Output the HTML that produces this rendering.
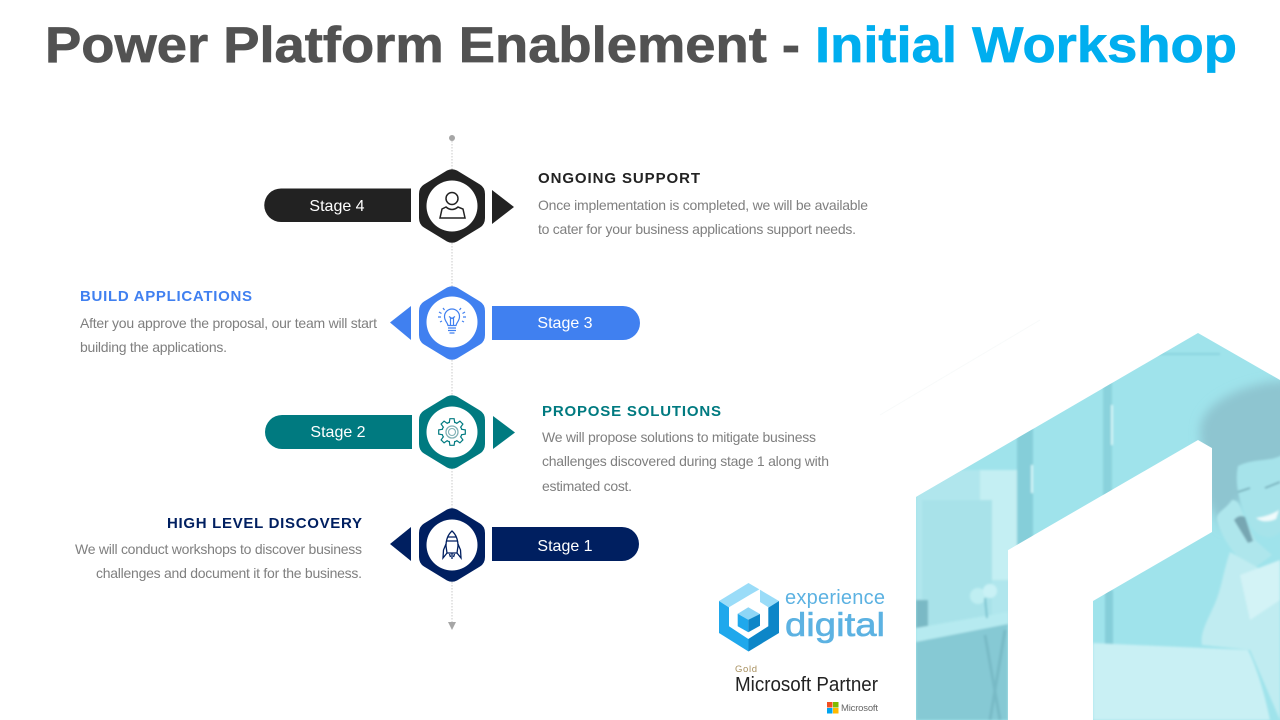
<!DOCTYPE html>
<html><head><meta charset="utf-8"><title>Power Platform Enablement - Initial Workshop</title>
<style>html,body{margin:0;padding:0;background:#fff;width:1280px;height:720px;overflow:hidden}svg{display:block}text{font-family:"Liberation Sans",Arial,sans-serif}</style>
</head><body>
<svg width="1280" height="720" viewBox="0 0 1280 720" xmlns="http://www.w3.org/2000/svg">
<defs>
<clipPath id="house"><path d="M916 497L1198 333L1280 380V720H1093V601L1212 532V448L1198 440L1008 550V720H916Z"/></clipPath>
<filter id="b1" x="-20%" y="-20%" width="140%" height="140%"><feGaussianBlur stdDeviation="1"/></filter>
<filter id="b4" x="-30%" y="-30%" width="160%" height="160%"><feGaussianBlur stdDeviation="5"/></filter>
<path id="hex" d="M-5 -35.500Q0 -38 5 -35.500L28 -21.500Q33 -18.500 33 -12V12Q33 18.500 28 21.500L5 35.500Q0 38 -5 35.500L-28 21.500Q-33 18.500 -33 12V-12Q-33 -18.500 -28 -21.500Z"/>
<path id="tooth" d="M-2.800 -9L-2.100 -13.300H2.100L2.800 -9" fill="#fff" stroke="#007a80" stroke-width="1.200"/>
</defs>
<rect width="1280" height="720" fill="#fff"/>

<!-- Title -->
<text x="45" y="62" font-size="50" font-weight="700" fill="#525252" stroke="#525252" stroke-width=".7" textLength="755" lengthAdjust="spacingAndGlyphs">Power Platform Enablement -</text>
<text x="815" y="62" font-size="50" font-weight="700" fill="#00aeef" stroke="#00aeef" stroke-width=".7" textLength="422" lengthAdjust="spacingAndGlyphs">Initial Workshop</text>

<!-- Background photo -->
<path d="M880 415L1040 320" stroke="#f8fafa" fill="none"/>
<g clip-path="url(#house)">
<rect x="900" y="320" width="380" height="400" fill="#9fe3eb"/>
<g filter="url(#b1)">
<rect x="916" y="470" width="105" height="250" fill="#b0e6ed"/>
<rect x="980" y="470" width="38" height="110" fill="#c4eff3"/>
<rect x="922" y="500" width="70" height="130" fill="#a8e2e9"/>
<rect x="1017" y="420" width="16" height="130" fill="#85ced9"/>
<rect x="1103" y="380" width="9" height="150" fill="#8ad2dc"/>
<rect x="1105" y="590" width="8" height="60" fill="#85ced9"/>
<rect x="1110" y="353" width="110" height="2" fill="#8bd3de"/>
<rect x="1031" y="465" width="2" height="28" fill="#d8f6f8"/>
<rect x="1111" y="405" width="2" height="40" fill="#d8f6f8"/>
<path d="M916 640L1008 622V720H916Z" fill="#86c9d4"/>
<path d="M916 600H928V640H916Z" fill="#7ab9c5"/>
<path d="M916 628L1008 612V624L916 642Z" fill="#b6eaf0"/>
<circle cx="978" cy="596" r="8" fill="#bfeef2"/>
<circle cx="990" cy="591" r="7" fill="#c9f1f5"/>
<path d="M985 598L987 618" stroke="#7cc4d0" stroke-width="2"/>
<path d="M985 635L1000 720M1005 630L990 720" stroke="#78bac6" stroke-width="3"/>
</g>
<g filter="url(#b4)">
<path d="M1200 432C1200 405 1235 388 1270 382L1290 380V500H1240L1225 530L1205 500Z" fill="#8ec5d0"/>
</g>
<g filter="url(#b1)">
<path d="M1238 466C1255 458 1270 462 1282 455V530C1272 542 1258 538 1250 525C1240 505 1234 485 1238 466Z" fill="#a6e3ea"/>
<path d="M1238 492L1250 488M1265 488L1280 482" stroke="#6ea6b2" stroke-width="1.500" fill="none"/>
<path d="M1256 518Q1270 516 1279 510L1276 519Q1264 524 1256 518Z" fill="#f0fbfc"/>
<path d="M1232 500C1225 510 1216 512 1217 520C1222 540 1238 560 1252 570L1272 555L1255 540L1242 512C1240 505 1238 500 1232 500Z" fill="#aee6ec"/>
<path d="M1234 520L1248 543L1253 541L1245 517Q1239 514 1234 520Z" fill="#77a6b2"/>
<path d="M1230 552C1222 575 1222 590 1212 610C1205 625 1200 635 1202 645L1250 650L1280 720V575L1262 570Z" fill="#c0ecf1"/>
<path d="M1240 575L1280 560V600L1250 620Z" fill="#d3f3f6"/>
<path d="M1093 643L1248 650C1258 670 1266 700 1270 720H1093Z" fill="#c9f0f4"/>
</g>
</g>

<!-- Central line -->
<line x1="452" y1="138" x2="452" y2="622" stroke="#c8c8c8" stroke-dasharray="1.500 1.500"/>
<circle cx="452" cy="138" r="3" fill="#a6a6a6"/>
<path d="M448 622H456L452 630Z" fill="#a6a6a6"/>

<!-- Stage 4 -->
<path d="M281 188.500H411V222H281A16.700 16.700 0 0 1 281 188.500Z" fill="#222"/>
<path d="M492 190L514 207L492 224Z" fill="#222"/>
<use href="#hex" x="452" y="206" fill="#222"/><circle cx="452" cy="206" r="25.500" fill="#fff"/>
<text x="337" y="211" font-size="16" fill="#fff" text-anchor="middle">Stage 4</text>
<g fill="none" stroke="#222" stroke-width="1.500">
<circle cx="452" cy="198.500" r="6"/>
<path d="M446 207L442 209L440 218H465L463 209L458 207Q452 212 446 207Z"/>
</g>
<text x="538" y="183" font-size="15" font-weight="700" fill="#222" textLength="162">ONGOING SUPPORT</text>
<text x="538" y="210" font-size="14" fill="#7f7f7f" textLength="330">Once implementation is completed, we will be available</text>
<text x="538" y="234" font-size="14" fill="#7f7f7f" textLength="318">to cater for your business applications support needs.</text>

<!-- Stage 3 -->
<path d="M492 306H623A17 17 0 0 1 623 340H492Z" fill="#4080f0"/>
<path d="M411 306L390 322.500L411 340Z" fill="#4080f0"/>
<use href="#hex" x="452" y="323" fill="#4080f0"/><circle cx="452" cy="322" r="25.500" fill="#fff"/>
<text x="565" y="328" font-size="16" fill="#fff" text-anchor="middle">Stage 3</text>
<g fill="none" stroke="#4080f0" stroke-width="1.200">
<path d="M448 325.500C447.500 322.500 444.500 321 444.500 316.500A7.500 7.500 0 0 1 459.500 316.500C459.500 321 456.500 322.500 456 325.500Z"/>
<path d="M448 328H456M448 330.500H456M449.500 333H454.500"/>
<path d="M450.500 325V318M453.500 325V318M449 316.500L452 318.500L455 316.500"/>
<path d="M439 312L441.500 313.500M465 312L462.500 313.500M438 317H441M463 317H466M440 322L442 321M464 322L462 321M443 308L444.500 310M461 308L459.500 310"/>
</g>
<text x="80" y="301" font-size="15" font-weight="700" fill="#4080f0" textLength="172">BUILD APPLICATIONS</text>
<text x="80" y="328" font-size="14" fill="#7f7f7f" textLength="297">After you approve the proposal, our team will start</text>
<text x="80" y="352" font-size="14" fill="#7f7f7f" textLength="147">building the applications.</text>

<!-- Stage 2 -->
<path d="M282 415H412V449H282A17 17 0 0 1 282 415Z" fill="#007a80"/>
<path d="M493 416L515 432.500L493 449Z" fill="#007a80"/>
<use href="#hex" x="452" y="432" fill="#007a80"/><circle cx="452" cy="432" r="25.500" fill="#fff"/>
<text x="338" y="437" font-size="16" fill="#fff" text-anchor="middle">Stage 2</text>
<circle cx="452" cy="432" r="10" fill="none" stroke="#007a80" stroke-width="1.200"/>
<g transform="translate(452 432)">
<use href="#tooth"/><use href="#tooth" transform="rotate(45)"/><use href="#tooth" transform="rotate(90)"/><use href="#tooth" transform="rotate(135)"/><use href="#tooth" transform="rotate(180)"/><use href="#tooth" transform="rotate(225)"/><use href="#tooth" transform="rotate(270)"/><use href="#tooth" transform="rotate(315)"/>
</g>
<g fill="none" stroke="#7fb0b4">
<circle cx="452" cy="432" r="6" stroke-width="1.300"/>
<circle cx="452" cy="432" r="3.500" stroke-width="1.100"/>
</g>
<text x="542" y="416" font-size="15" font-weight="700" fill="#007a80" textLength="179">PROPOSE SOLUTIONS</text>
<text x="542" y="442" font-size="14" fill="#7f7f7f" textLength="274">We will propose solutions to mitigate business</text>
<text x="542" y="466" font-size="14" fill="#7f7f7f" textLength="287">challenges discovered during stage 1 along with</text>
<text x="542" y="491" font-size="14" fill="#7f7f7f" textLength="90">estimated cost.</text>

<!-- Stage 1 -->
<path d="M492 527H622A17 17 0 0 1 622 561H492Z" fill="#001f60"/>
<path d="M411 527L390 544L411 561Z" fill="#001f60"/>
<use href="#hex" x="452" y="545" fill="#001f60"/><circle cx="452" cy="545" r="25.500" fill="#fff"/>
<text x="565" y="551" font-size="16" fill="#fff" text-anchor="middle">Stage 1</text>
<g fill="none" stroke="#001f60" stroke-width="1.300">
<path d="M452 531C447.500 535 446 540 446 546L447 553H457L458 546C458 540 456.500 535 452 531Z"/>
<path d="M446.500 541H457.500M448 537H456"/>
<path d="M446 544L443.500 550L443 558L447 553M458 544L460.500 550L461 558L457 553"/>
<path d="M452 553V559M449.500 554L450.500 557M454.500 554L453.500 557"/>
</g>
<text x="167" y="528" font-size="15" font-weight="700" fill="#001f60" textLength="195">HIGH LEVEL DISCOVERY</text>
<text x="75" y="554" font-size="14" fill="#7f7f7f" textLength="287">We will conduct workshops to discover business</text>
<text x="96" y="578" font-size="14" fill="#7f7f7f" textLength="266">challenges and document it for the business.</text>

<!-- Logo -->
<path d="M748.500 583L779 601L748.500 620L719 601Z" fill="#9adcf8"/>
<path d="M719 601L748.500 620V651.500L719 633Z" fill="#1fa8ec"/>
<path d="M779 601V633L748.500 651.500V620Z" fill="#0d86c8"/>
<path d="M729 607.300L750 594.700L760 589V602L768.300 607.300V626.300L748.300 639L729 626.300Z" fill="#fff"/>
<path d="M737.700 613.700L748.300 607.300L760 614L748.300 619.700Z" fill="#8ed6f6"/>
<path d="M737.700 613.700L748.300 619.700V632.300L737.700 626.300Z" fill="#1fa8ec"/>
<path d="M760 614V625.700L748.300 632.300V619.700Z" fill="#0d86c8"/>
<text x="785" y="604" font-size="20" fill="#5cb2e2" textLength="100">experience</text>
<text x="785" y="636" font-size="33" fill="#5cb2e2" stroke="#5cb2e2" stroke-width=".6" textLength="100" lengthAdjust="spacingAndGlyphs">digital</text>
<text x="735" y="672" font-size="9.500" fill="#a8905f" textLength="22">Gold</text>
<text x="735" y="691" font-size="20" fill="#222" textLength="143" lengthAdjust="spacingAndGlyphs">Microsoft Partner</text>
<rect x="827" y="702" width="5.500" height="5.500" fill="#f25022"/><rect x="833" y="702" width="5.500" height="5.500" fill="#7fba00"/>
<rect x="827" y="708" width="5.500" height="5.500" fill="#00a4ef"/><rect x="833" y="708" width="5.500" height="5.500" fill="#ffb900"/>
<text x="841" y="711" font-size="9.500" fill="#666" textLength="37">Microsoft</text>
</svg>
</body></html>
